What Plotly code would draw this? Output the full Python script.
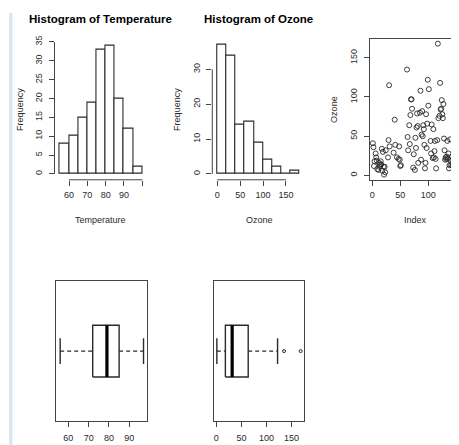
import plotly.graph_objects as go

# The page body has an 8px margin, so the figure is drawn 8px in from the window edge.
OFF = 8
W, H = 459 - OFF, 445 - OFF

# ---------------- data ----------------
temp_breaks = [55, 60, 65, 70, 75, 80, 85, 90, 95, 100]
temp_counts = [8, 10, 15, 19, 33, 34, 20, 12, 2]

ozone_breaks = [0, 20, 40, 60, 80, 100, 120, 140, 160, 180]
ozone_counts = [37, 34, 14, 15, 9, 4, 2, 0, 1]

ozone_values = [41, 36, 12, 18, None, 28, 23, 19, 8, None, 7, 16, 11, 14, 18, 14, 34, 6,
                30, 11, 1, 11, 4, 32, None, None, None, 23, 45, 115, 37, None, None, None, None, None,
                None, 29, None, 71, 39, None, None, 23, None, None, 21, 37, 20, 12, 13, None, None, None,
                None, None, None, None, None, None, None, 135, 49, 32, None, 64, 40, 77, 97, 97, 85, None,
                10, 27, None, 7, 48, 35, 61, 79, 63, 16, None, None, 80, 108, 20, 52, 82, 50,
                64, 59, 39, 9, 16, 78, 35, 66, 122, 89, 110, None, None, 44, 28, 65, None, 22,
                59, 23, 31, 44, 21, 9, None, 45, 168, 73, None, 76, 118, 84, 85, 96, 78, 73,
                91, 47, 32, 20, 23, 21, 24, 44, 21, 28, 9, 13, 46, 18, 13, 24, 16, 13,
                23, 36, 7, 14, 30, None, 14, 18, 20]
ozone_index = list(range(1, len(ozone_values) + 1))

# boxplot stats: lower whisker, lower hinge, median, upper hinge, upper whisker
temp_box = [56, 72, 79, 85, 97]
ozone_box = [1, 18, 31.5, 63.5, 122]
ozone_outliers = [135, 168]

temp_xticks = [60, 70, 80, 90, 100]
temp_xtext = ["60", "70", "80", "90", ""]
temp_yticks = [0, 5, 10, 15, 20, 25, 30, 35]
ozone_xticks = [0, 50, 100, 150]
ozone_yticks = [0, 10, 20, 30]
scatter_ticks = [0, 50, 100, 150]
tempbox_ticks = [60, 70, 80, 90]

# ---------------- styling helpers ----------------
FONT = "Liberation Sans, Arial, sans-serif"
INK = "#2a2a2a"
AX = "#444444"


def px_x(a, b):
    return [max(0, (a - OFF) / W), min(1, (b - OFF) / W)]


def px_y(top, bottom):
    return [1 - (bottom - OFF) / H, 1 - (top - OFF) / H]


fig = go.Figure()

# --- Histogram of Temperature (x, y)
mids = [(temp_breaks[i] + temp_breaks[i + 1]) / 2 for i in range(len(temp_counts))]
widths = [temp_breaks[i + 1] - temp_breaks[i] for i in range(len(temp_counts))]
fig.add_trace(go.Bar(x=mids, y=temp_counts, width=widths, xaxis="x", yaxis="y",
                     marker=dict(color="white", line=dict(color=INK, width=1.1)),
                     showlegend=False, hoverinfo="skip"))

# --- Histogram of Ozone (x2, y2)
mids2 = [(ozone_breaks[i] + ozone_breaks[i + 1]) / 2 for i in range(len(ozone_counts))]
widths2 = [ozone_breaks[i + 1] - ozone_breaks[i] for i in range(len(ozone_counts))]
fig.add_trace(go.Bar(x=mids2, y=ozone_counts, width=widths2, xaxis="x2", yaxis="y2",
                     marker=dict(color="white", line=dict(color=INK, width=1.1)),
                     showlegend=False, hoverinfo="skip"))

# --- Scatter Ozone vs Index (x3, y3)
fig.add_trace(go.Scatter(x=ozone_index, y=ozone_values, mode="markers", xaxis="x3", yaxis="y3",
                         marker=dict(symbol="circle-open", size=5, color=INK, line=dict(width=0.9)),
                         showlegend=False, hoverinfo="skip"))

# --- Boxplots
BOX_H = 0.2
STAPLE_H = 0.1


def add_box(stats, xa, ya, outliers=None):
    lo, q1, med, q3, hi = stats
    common = dict(xaxis=xa, yaxis=ya, mode="lines", showlegend=False, hoverinfo="skip")
    fig.add_trace(go.Scatter(x=[lo, q1], y=[0, 0], line=dict(color=INK, width=1.2, dash="4px,3px"), **common))
    fig.add_trace(go.Scatter(x=[q3, hi], y=[0, 0], line=dict(color=INK, width=1.2, dash="4px,3px"), **common))
    fig.add_trace(go.Scatter(x=[lo, lo], y=[-STAPLE_H, STAPLE_H], line=dict(color=INK, width=1.4), **common))
    fig.add_trace(go.Scatter(x=[hi, hi], y=[-STAPLE_H, STAPLE_H], line=dict(color=INK, width=1.4), **common))
    fig.add_trace(go.Scatter(x=[q1, q3, q3, q1, q1], y=[-BOX_H, -BOX_H, BOX_H, BOX_H, -BOX_H],
                             fill="toself", fillcolor="white",
                             line=dict(color=INK, width=1.4), **common))
    fig.add_trace(go.Scatter(x=[med, med], y=[-BOX_H, BOX_H], line=dict(color="black", width=3.2), **common))
    if outliers:
        fig.add_trace(go.Scatter(x=outliers, y=[0] * len(outliers), mode="markers", xaxis=xa, yaxis=ya,
                                 marker=dict(symbol="circle-open", size=3, color=INK, line=dict(width=1)),
                                 showlegend=False, hoverinfo="skip"))


add_box(temp_box, "x4", "y4")
add_box(ozone_box, "x5", "y5", ozone_outliers)

tickfont = dict(family=FONT, size=9, color=INK)
base = dict(showgrid=False, zeroline=False, ticks="outside", ticklen=5, tickwidth=1,
            tickcolor=AX, tickfont=tickfont, fixedrange=True, linecolor=AX, linewidth=1)
ybase = dict(base, ticklabelstandoff=3)
xbase = dict(base, ticklabelstandoff=1)

layout = dict(
    width=W, height=H, autosize=False,
    margin=dict(l=0, r=0, t=0, b=0, pad=0),
    paper_bgcolor="white", plot_bgcolor="white",
    font=dict(family=FONT, size=9, color=INK),
    bargap=0,
    xaxis=dict(xbase, domain=px_x(54.5, 146), range=[52.09, 102.02], anchor="y",
               tickmode="array", tickvals=temp_xticks, ticktext=temp_xtext, showline=False),
    yaxis=dict(ybase, domain=px_y(36, 176.7), range=[-1.57, 35.34], anchor="x",
               tickmode="array", tickvals=temp_yticks, tickangle=-90, showline=False),
    xaxis2=dict(xbase, domain=px_x(212.3, 303), range=[-10.9, 187.2], anchor="y2",
                tickmode="array", tickvals=ozone_xticks, showline=False),
    yaxis2=dict(ybase, domain=px_y(36, 176.7), range=[-1.70, 38.23], anchor="x2",
                tickmode="array", tickvals=ozone_yticks, tickangle=-90, showline=False),
    xaxis3=dict(xbase, domain=px_x(370, 459), range=[-4.1, 154.8], anchor="y3",
                tickmode="array", tickvals=scatter_ticks, showline=True, mirror=True),
    yaxis3=dict(ybase, domain=px_y(34.3, 176.7), range=[-5.55, 173.96], anchor="x3",
                tickmode="array", tickvals=scatter_ticks, tickangle=-90, showline=True, mirror=False),
    xaxis4=dict(xbase, domain=px_x(56, 146.5), range=[53.95, 98.46], anchor="y4",
                tickmode="array", tickvals=tempbox_ticks, showline=True, mirror=True,
                ticklabelstandoff=3),
    yaxis4=dict(base, domain=px_y(279.3, 420.7), range=[-0.54, 0.54], anchor="x4",
                showticklabels=False, ticks="", showline=True, mirror=True),
    xaxis5=dict(xbase, domain=px_x(213.5, 304), range=[-5.68, 174.68], anchor="y5",
                tickmode="array", tickvals=ozone_xticks, showline=True, mirror=True,
                ticklabelstandoff=3),
    yaxis5=dict(base, domain=px_y(279.3, 420.7), range=[-0.54, 0.54], anchor="x5",
                showticklabels=False, ticks="", showline=True, mirror=True),
)

shapes = [
    # the page's light blue side bar
    dict(type="rect", xref="paper", yref="paper", x0=(9 - OFF) / W, x1=(12.5 - OFF) / W,
         y0=0, y1=1, fillcolor="#d9e6f4", line=dict(width=0), layer="below"),
    # R-style axis lines spanning first to last tick
    dict(type="line", xref="x", yref="y domain", x0=temp_xticks[0], x1=temp_xticks[-1], y0=0, y1=0,
         line=dict(color=AX, width=1)),
    dict(type="line", xref="x domain", yref="y", x0=0, x1=0, y0=temp_yticks[0], y1=temp_yticks[-1],
         line=dict(color=AX, width=1)),
    dict(type="line", xref="x2", yref="y2 domain", x0=ozone_xticks[0], x1=ozone_xticks[-1], y0=0, y1=0,
         line=dict(color=AX, width=1)),
    dict(type="line", xref="x2 domain", yref="y2", x0=0, x1=0, y0=ozone_yticks[0], y1=ozone_yticks[-1],
         line=dict(color=AX, width=1)),
]
layout["shapes"] = shapes

ann = []


def text(x, y, s, size=9, bold=False, angle=0):
    ann.append(dict(xref="paper", yref="paper", x=(x - OFF) / W, y=1 - (y - OFF) / H,
                    text=f"<b>{s}</b>" if bold else s,
                    showarrow=False, xanchor="center", yanchor="middle", textangle=angle,
                    font=dict(family=FONT, size=size, color="black" if bold else INK)))


text(100, 14, "Histogram of Temperature", size=11.5, bold=True)
text(258, 14, "Histogram of Ozone", size=11.5, bold=True)
text(100, 217, "Temperature")
text(259, 217, "Ozone")
text(415, 217, "Index")
text(20, 106, "Frequency", angle=-90)
text(177, 106, "Frequency", angle=-90)
text(334, 106, "Ozone", angle=-90)
layout["annotations"] = ann

fig.update_layout(**layout)
fig.write_html("out.html", config={"displayModeBar": False})
